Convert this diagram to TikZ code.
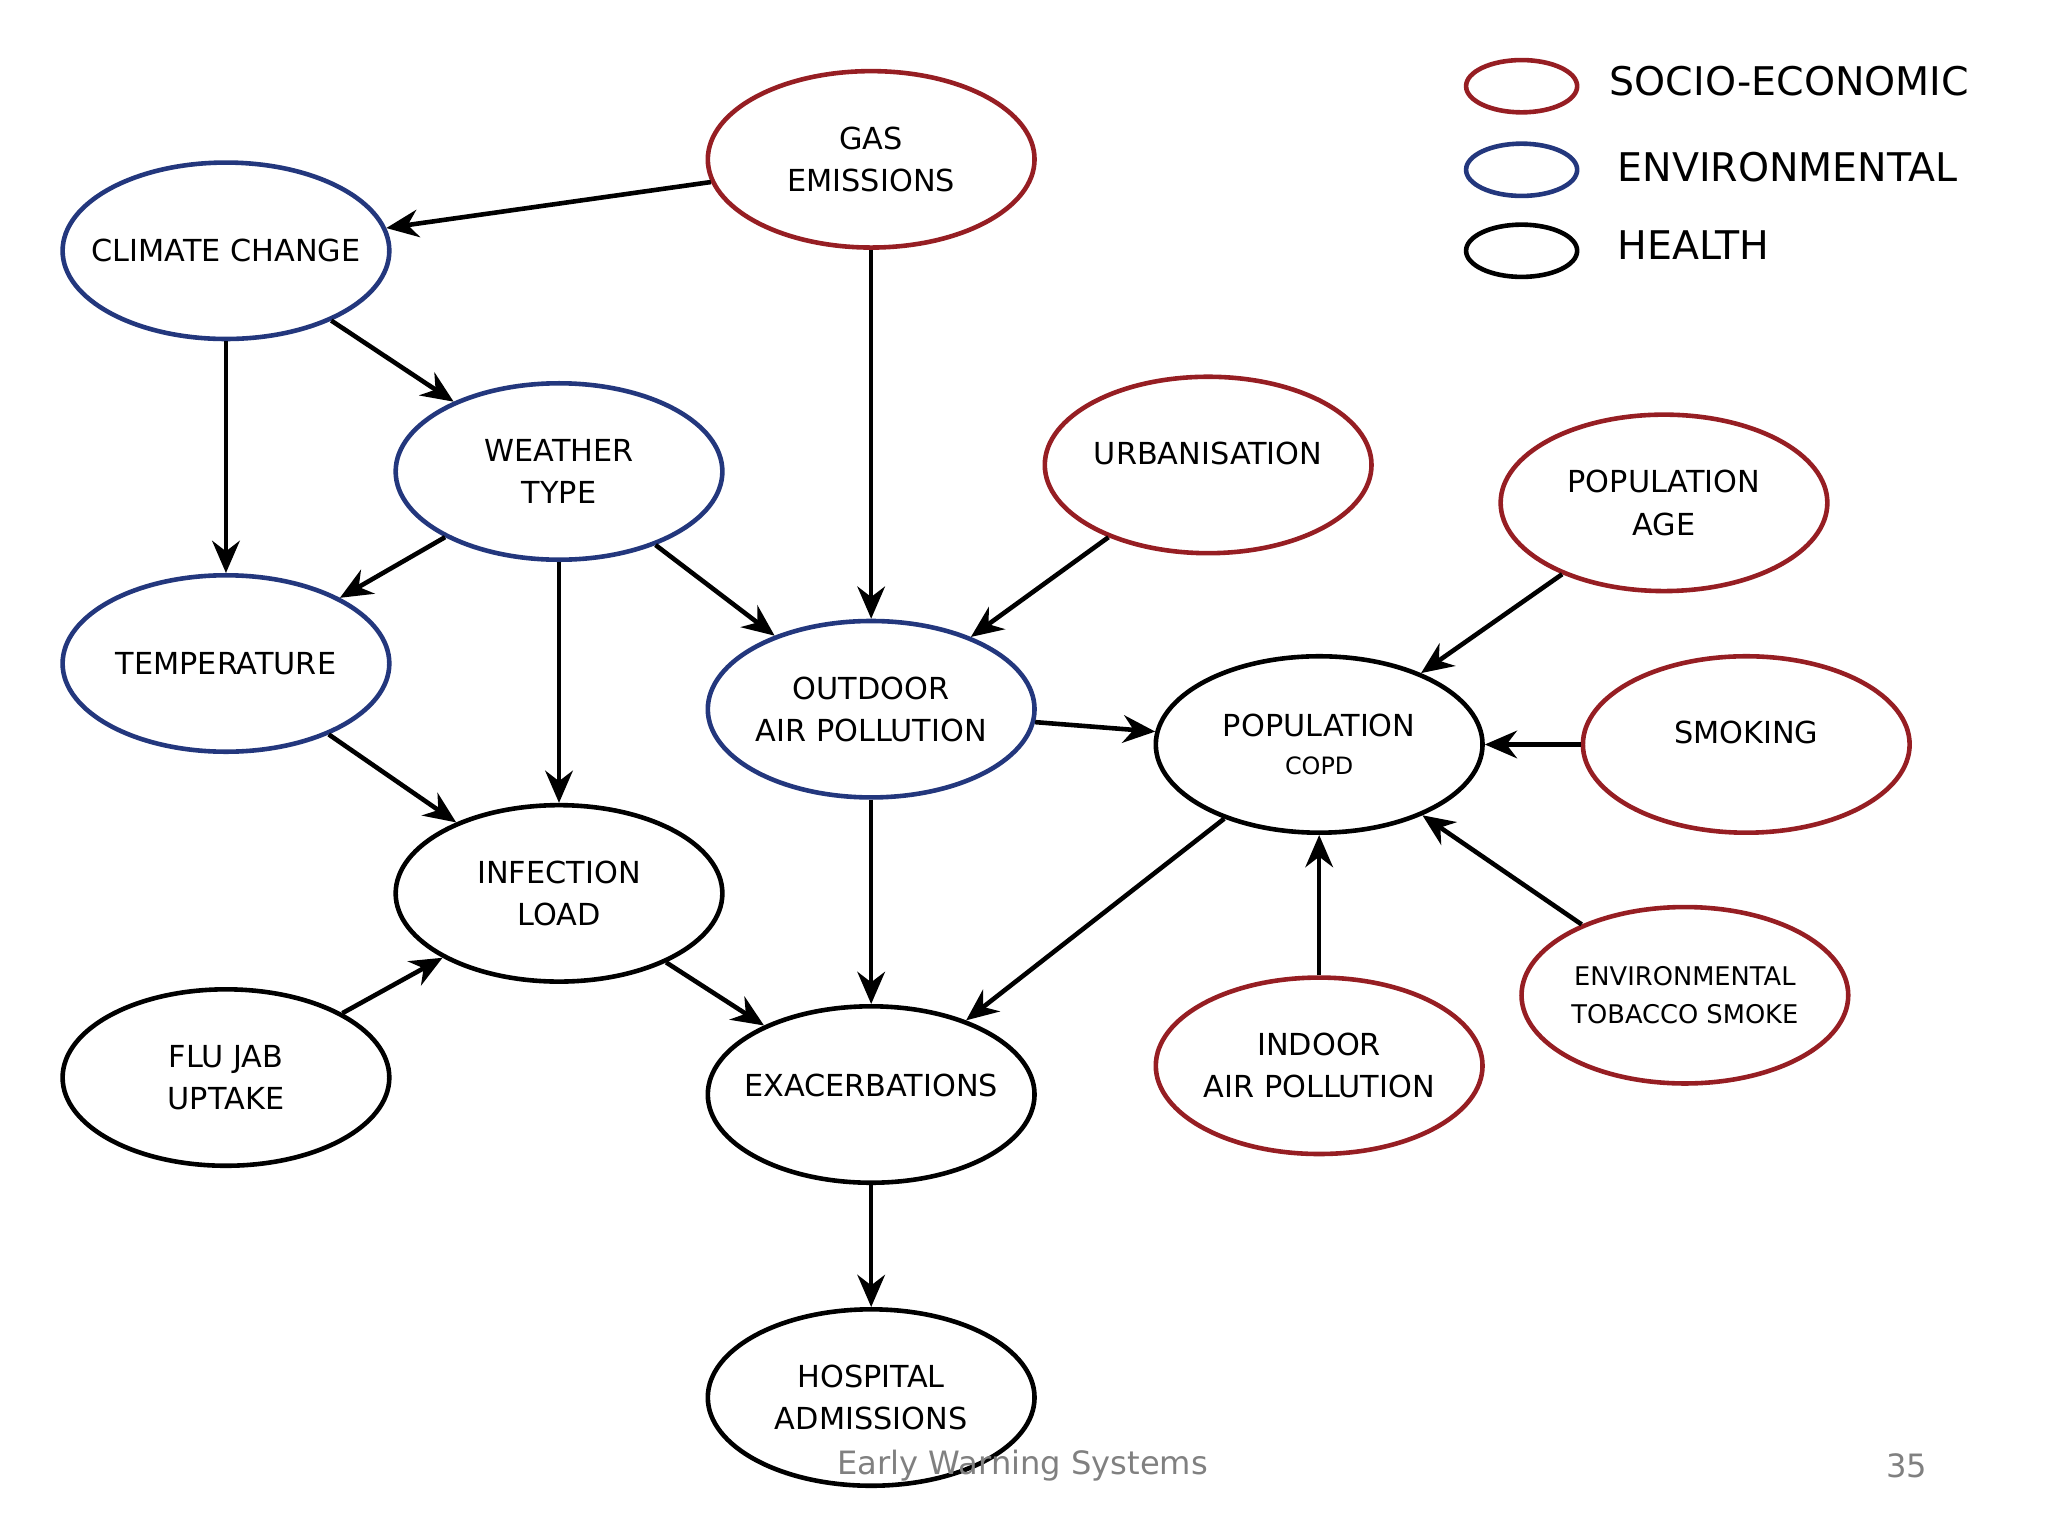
\documentclass[tikz,border=0pt]{standalone}
\usepackage{fontspec}
\setmainfont{DejaVu Sans}
\usetikzlibrary{shapes.geometric,arrows.meta}
\definecolor{se}{RGB}{150,30,35}
\definecolor{en}{RGB}{35,55,125}
\begin{document}
\begin{tikzpicture}[x=0.01cm,y=-0.01cm,
  e/.style={ellipse,draw,line width=1pt,minimum width=2.5cm,minimum height=1.35cm,align=center,font=\fontsize{6.6}{9.2}\selectfont,inner sep=0pt,inner xsep=-6pt},
  s/.style={e,draw=se}, v/.style={e,draw=en}, h/.style={e,draw=black},
  a/.style={-{Stealth[length=7pt,width=6pt]},line width=1pt},
  lg/.style={ellipse,draw,line width=1pt,minimum width=0.85cm,minimum height=0.4cm},
  lt/.style={anchor=west,font=\fontsize{8.6}{10}\selectfont}]
\useasboundingbox (0,0) rectangle (1568,1176);
\node[s] (gas) at (667,122) {GAS\\EMISSIONS};
\node[v] (cc) at (173,192) {CLIMATE CHANGE};
\node[v] (wt) at (428,361) {WEATHER\\TYPE};
\node[v] (tp) at (173,508) {TEMPERATURE};
\node[s] (ur) at (925,356) {URBANISATION\\[-4pt]};
\node[s] (pa) at (1274,385) {POPULATION\\AGE};
\node[v] (oap) at (667,543) {OUTDOOR\\AIR POLLUTION};
\node[h] (pc) at (1010,570) {POPULATION\\[-1pt]{\fontsize{5.2}{7}\selectfont COPD}};
\node[s] (sm) at (1337,570) {SMOKING\\[-4pt]};
\node[h] (il) at (428,684) {INFECTION\\LOAD};
\node[h] (fj) at (173,825) {FLU JAB\\UPTAKE};
\node[h] (ex) at (667,838) {EXACERBATIONS\\[-5pt]};
\node[s] (iap) at (1010,816) {INDOOR\\AIR POLLUTION};
\node[s] (ets) at (1290,762) {{\fontsize{5.6}{7}\selectfont ENVIRONMENTAL}\\[-1pt]{\fontsize{5.6}{7}\selectfont TOBACCO SMOKE}};
\node[h] (ha) at (667,1070) {HOSPITAL\\ADMISSIONS};
\draw[a] (gas) -- (cc);
\draw[a] (gas) -- (oap);
\draw[a] (cc) -- (wt);
\draw[a] (cc) -- (tp);
\draw[a] (wt) -- (tp);
\draw[a] (wt) -- (il);
\draw[a] (wt) -- (oap);
\draw[a] (tp) -- (il);
\draw[a] (ur) -- (oap);
\draw[a] (pa) -- (pc);
\draw[a] (oap) -- (pc);
\draw[a] (oap) -- (ex);
\draw[a] (sm) -- (pc);
\draw[a] (ets) -- (pc);
\draw[a] (iap) -- (pc);
\draw[a] (pc) -- (ex);
\draw[a] (fj) -- (il);
\draw[a] (il) -- (ex);
\draw[a] (ex) -- (ha);
\node[lg,draw=se] (l1) at (1165,66) {};
\node[lg,draw=en] (l2) at (1165,130) {};
\node[lg,draw=black] (l3) at (1165,192) {};
\node[lt] (t1) at (1220,62) {SOCIO-ECONOMIC};
\node[lt] (t2) at (1226,128) {ENVIRONMENTAL};
\node[lt] (t3) at (1226,188) {HEALTH};
\node[text=gray,font=\fontsize{7}{9}\selectfont] (f1) at (783,1122) {Early Warning Systems};
\node[text=gray,font=\fontsize{7}{9}\selectfont] (f2) at (1460,1122) {35};
\end{tikzpicture}
\end{document}
